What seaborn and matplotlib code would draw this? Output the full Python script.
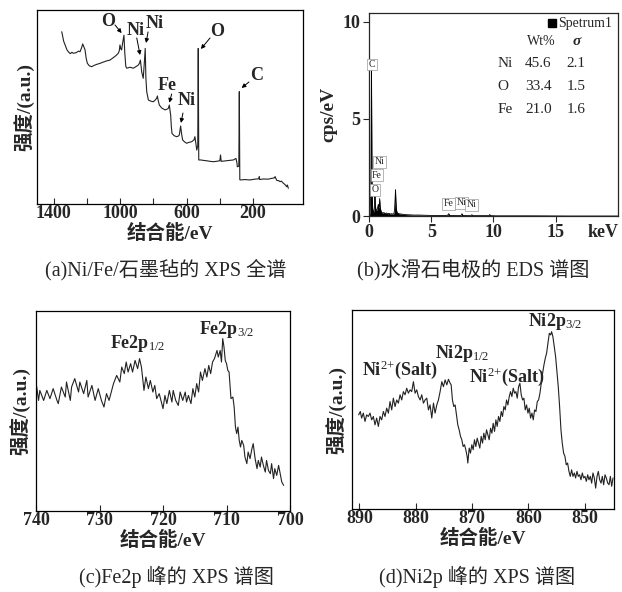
import numpy as np
import pandas as pd
import matplotlib
matplotlib.use('Agg')
import matplotlib.pyplot as plt
import seaborn as sns

sns.set_style('ticks')
plt.rcParams['font.family'] = ['Liberation Serif', 'Noto Sans CJK SC']
plt.rcParams['mathtext.fontset'] = 'custom'
plt.rcParams['mathtext.rm'] = 'Liberation Serif'
plt.rcParams['mathtext.it'] = 'Liberation Serif:italic'
plt.rcParams['mathtext.bf'] = 'Liberation Serif:bold'
plt.rcParams['axes.unicode_minus'] = False

# (a) XPS survey, binding energy (eV) vs intensity (a.u.)
survey_ev = [1351, 1340, 1331, 1320, 1312, 1300, 1290, 1282, 1265, 1250,
             1241, 1232, 1225, 1218, 1211, 1204, 1197, 1185, 1171, 1155,
             1140, 1121, 1100, 1080, 1061, 1040, 1025, 1011, 1005, 1001,
             996, 991, 985, 977, 972, 966, 960, 940, 920, 905,
             891, 884, 878, 870, 861, 855, 849, 845, 840, 830,
             815, 800, 790, 780, 776, 770, 764, 750, 730, 720,
             710, 704, 698, 696, 692, 688, 675, 660, 650, 644,
             636, 630, 624, 612, 600, 585, 570, 556, 550, 544,
             539, 533, 530, 527, 515, 500, 480, 460, 440, 420,
             400, 396, 392, 370, 340, 319, 303, 297, 295, 286,
             283, 280, 275, 250, 219, 190, 165, 163, 160, 140,
             109, 90, 70, 68, 62, 58, 45, 38, 30, 18,
             8, -2, -6, -12]
survey_int = [88.8, 84.0, 82.0, 79.5, 78.5, 77.5, 78.2, 77.7, 78.0, 78.8,
              78.5, 80.5, 82.5, 81.0, 79.4, 75.0, 72.5, 71.2, 70.8, 71.5,
              72.0, 72.5, 73.2, 73.8, 74.2, 75.5, 76.5, 77.7, 79.0, 82.0,
              80.0, 79.4, 83.0, 87.0, 78.0, 71.0, 70.0, 70.5, 70.0, 70.8,
              71.6, 72.5, 74.2, 68.0, 64.8, 72.0, 80.2, 65.0, 57.9, 53.6,
              53.0, 52.7, 53.5, 54.5, 55.7, 53.0, 51.0, 49.5, 48.5, 48.8,
              49.3, 51.0, 47.0, 45.9, 40.0, 36.4, 35.2, 34.7, 35.0, 35.6,
              40.2, 36.0, 33.0, 32.0, 31.3, 31.8, 32.1, 33.0, 34.7, 31.0,
              27.8, 30.0, 80.2, 22.7, 22.7, 22.5, 22.3, 22.0, 21.8, 22.0,
              22.3, 25.3, 22.0, 22.2, 22.5, 22.7, 23.5, 21.0, 19.2, 19.5,
              57.9, 12.5, 12.4, 12.6, 12.4, 12.8, 13.0, 14.1, 12.6, 12.9,
              12.8, 13.2, 13.5, 14.1, 13.0, 12.2, 12.0, 11.5, 11.8, 10.7,
              10.0, 8.9, 9.8, 8.1]

# (b) EDS spectrum
eds_kev = [0, 0.05, 0.1, 0.15, 0.18, 0.2, 0.22, 0.25, 0.3, 0.35,
           0.4, 0.45, 0.48, 0.51, 0.55, 0.6, 0.65, 0.7, 0.75, 0.78,
           0.82, 0.86, 0.9, 0.95, 1.0, 1.1, 1.2, 1.3, 1.4, 1.5,
           1.6, 1.7, 1.8, 1.9, 2.0, 2.05, 2.1, 2.13, 2.16, 2.2,
           2.25, 2.3, 2.4, 2.6, 2.8, 3.0, 3.3, 3.6, 4.0, 4.5,
           5.0, 5.5, 6.0, 6.3, 6.4, 6.5, 6.8, 7.2, 7.4, 7.47,
           7.55, 7.9, 8.2, 8.26, 8.32, 8.8, 9.4, 9.65, 9.7, 9.75,
           10.2, 11, 13, 16, 20]
eds_cps = [0, 0.05, 0.3, 1.5, 5.0, 7.6, 5.0, 1.2, 0.35, 0.2,
           0.25, 0.5, 1.3, 0.6, 0.35, 0.3, 0.3, 0.45, 0.6, 0.4,
           0.5, 0.9, 0.45, 0.3, 0.2, 0.15, 0.18, 0.12, 0.16, 0.11,
           0.14, 0.1, 0.12, 0.1, 0.12, 0.3, 0.9, 1.35, 0.8, 0.35,
           0.2, 0.15, 0.12, 0.1, 0.08, 0.07, 0.06, 0.05, 0.05, 0.04,
           0.03, 0.03, 0.03, 0.03, 0.12, 0.03, 0.03, 0.02, 0.03, 0.12,
           0.03, 0.02, 0.02, 0.07, 0.02, 0.02, 0.02, 0.02, 0.08, 0.02,
           0.01, 0.01, 0.01, 0.0, 0.0]
eds_elements = ['Ni', 'O', 'Fe']
eds_wt = ['45.6', '33.4', '21.0']
eds_sigma = ['2.1', '1.5', '1.6']
eds_peak_names = ['C', 'Ni', 'Fe', 'O', 'Fe', 'Ni', 'Ni']
eds_peak_kev = [0.24, 0.83, 0.64, 0.5, 6.37, 7.44, 8.24]
eds_peak_cps = [7.8, 2.8, 2.1, 1.34, 0.62, 0.69, 0.57]

# (c) Fe2p
fe_ev = [739.9, 739.6, 739.4, 738.8, 738.3, 737.8, 737.3, 736.7, 736.5, 736.0,
         735.4, 735.2, 734.6, 734.4, 733.9, 733.3, 733.1, 732.5, 732.0, 731.8,
         731.2, 730.7, 730.2, 729.7, 729.3, 728.9, 728.5, 727.8, 727.3, 726.8,
         726.5, 726.1, 725.8, 725.5, 725.1, 724.8, 724.4, 724.0, 723.7, 723.4,
         723.2, 723.0, 722.7, 722.3, 722.0, 721.6, 721.3, 721.0, 720.6, 720.2,
         720.0, 719.7, 719.4, 719.0, 718.6, 718.4, 718.0, 717.6, 717.3, 716.9,
         716.5, 716.3, 716.0, 715.6, 715.3, 715.0, 714.7, 714.4, 714.1, 713.8,
         713.4, 713.1, 712.8, 712.5, 712.2, 711.9, 711.5, 711.3, 711.0, 710.8,
         710.6, 710.4, 710.2, 710.0, 709.8, 709.6, 709.3, 709.0, 708.8, 708.6,
         708.4, 708.2, 708.0, 707.8, 707.6, 707.3, 707.1, 706.8, 706.6, 706.3,
         706.0, 705.8, 705.5, 705.2, 705.0, 704.7, 704.5, 704.2, 703.9, 703.7,
         703.4, 703.1, 702.9, 702.6, 702.4, 702.1, 701.8, 701.6, 701.3, 701.0]
fe_int = [62.3, 55.3, 60.3, 55.3, 60.3, 56.2, 61.2, 55.3, 53.7, 62.0,
          57.0, 64.5, 55.3, 62.0, 66.2, 59.5, 64.5, 58.7, 65.3, 57.0,
          62.8, 55.3, 61.2, 55.3, 52.0, 58.7, 55.3, 63.7, 67.8, 64.5,
          72.0, 68.7, 74.5, 69.5, 73.7, 69.5, 75.3, 71.2, 76.2, 72.0,
          66.2, 60.3, 67.0, 61.2, 65.3, 59.5, 62.8, 56.2, 58.7, 53.7,
          51.2, 57.8, 53.7, 60.3, 54.5, 60.3, 55.3, 52.8, 59.5, 55.3,
          59.5, 54.5, 57.8, 53.7, 61.2, 57.0, 63.7, 59.5, 69.5, 65.3,
          71.2, 67.0, 72.8, 68.7, 74.5, 76.2, 80.3, 77.0, 80.3, 74.5,
          86.2, 82.0, 75.3, 73.7, 70.3, 69.5, 56.2, 57.0, 52.0, 42.0,
          38.7, 42.0, 35.3, 32.0, 35.3, 32.8, 27.0, 23.7, 29.5, 26.2,
          31.2, 33.7, 26.2, 21.2, 25.3, 22.0, 27.0, 22.8, 19.5, 25.3,
          20.3, 18.7, 23.7, 16.2, 21.2, 17.8, 22.8, 19.5, 14.5, 12.8]

# (d) Ni2p
ni_ev = [890.12, 889.82, 889.59, 889.29, 888.99, 888.70, 888.40, 888.10, 887.81, 887.51,
         887.21, 886.92, 886.62, 886.33, 886.03, 885.73, 885.44, 885.14, 884.84, 884.55,
         884.25, 883.96, 883.66, 883.36, 883.07, 882.77, 882.47, 882.18, 881.88, 881.59,
         881.29, 880.99, 880.70, 880.40, 880.10, 879.81, 879.51, 879.21, 878.92, 878.62,
         878.33, 878.03, 877.73, 877.44, 877.14, 876.84, 876.55, 876.25, 875.96, 875.66,
         875.36, 875.07, 874.77, 874.47, 874.18, 873.88, 873.70, 873.47, 873.23, 872.99,
         872.76, 872.52, 872.28, 872.04, 871.81, 871.57, 871.33, 871.10, 870.86, 870.74,
         870.50, 870.27, 870.03, 869.79, 869.56, 869.32, 869.08, 868.84, 868.61, 868.37,
         868.13, 867.90, 867.66, 867.42, 867.19, 866.95, 866.71, 866.47, 866.24, 866.00,
         865.76, 865.53, 865.29, 865.05, 864.81, 864.58, 864.34, 864.10, 863.87, 863.63,
         863.39, 863.16, 862.92, 862.68, 862.44, 862.21, 861.97, 861.73, 861.50, 861.26,
         861.02, 860.79, 860.55, 860.31, 860.07, 859.84, 859.60, 859.36, 859.13, 858.89,
         858.65, 858.41, 858.18, 857.94, 857.70, 857.47, 857.23, 856.99, 856.76, 856.52,
         856.28, 856.04, 855.87, 855.64, 855.40, 855.16, 854.93, 854.69, 854.45, 854.21,
         853.98, 853.74, 853.50, 853.27, 853.03, 852.79, 852.56, 852.32, 852.08, 851.84,
         851.61, 851.37, 851.13, 850.90, 850.66, 850.42, 850.19, 849.95, 849.71, 849.47,
         849.24, 849.00, 848.76, 848.53, 848.29, 848.05, 847.81, 847.58, 847.34, 847.10,
         846.87, 846.63, 846.39, 846.16, 845.91, 845.68, 845.44, 845.21, 844.97]
ni_int = [47.3, 49.0, 45.7, 48.2, 44.0, 47.3, 46.5, 48.2, 44.8, 46.5,
          42.3, 45.7, 41.5, 46.5, 44.8, 49.0, 46.5, 50.7, 48.2, 54.0,
          49.8, 55.7, 51.5, 54.8, 53.2, 57.4, 54.8, 59.0, 57.4, 60.7,
          58.2, 59.9, 59.0, 64.0, 58.2, 59.9, 56.5, 54.8, 57.4, 53.2,
          54.8, 55.7, 49.8, 52.3, 45.7, 53.2, 48.2, 52.3, 54.8, 59.0,
          64.0, 61.5, 64.9, 62.4, 65.2, 63.2, 62.4, 54.8, 51.5, 52.3,
          47.3, 42.3, 39.8, 36.5, 34.8, 31.4, 32.3, 29.8, 26.4, 23.1,
          30.6, 28.1, 32.3, 29.8, 34.8, 31.4, 35.6, 33.1, 30.6, 36.5,
          33.1, 38.1, 34.8, 39.8, 37.3, 34.8, 40.6, 38.1, 43.1, 39.0,
          44.8, 41.5, 46.5, 44.0, 49.0, 46.5, 51.5, 49.8, 54.8, 52.3,
          56.5, 59.0, 56.5, 60.7, 58.2, 59.0, 55.7, 61.5, 63.2, 57.4,
          54.8, 55.7, 49.8, 52.3, 48.2, 50.7, 45.7, 48.2, 44.8, 49.8,
          49.0, 54.0, 54.8, 58.2, 63.2, 68.2, 72.4, 75.8, 78.3, 83.3,
          88.3, 87.5, 89.1, 86.6, 81.6, 76.6, 69.1, 61.5, 51.5, 39.8,
          33.1, 28.1, 26.4, 22.2, 23.1, 18.9, 16.4, 19.7, 16.4, 18.1,
          15.6, 18.9, 16.4, 17.2, 14.7, 18.1, 15.6, 16.4, 13.9, 17.2,
          14.7, 16.4, 13.0, 18.1, 15.6, 10.5, 16.4, 18.9, 14.7, 13.0,
          16.4, 12.2, 17.2, 15.6, 13.0, 12.2, 16.4, 11.4, 15.6]

TICK = dict(fontsize=13, fontweight='bold')
LAB = dict(fontsize=14, fontweight='bold')
LINE = '#222222'

fig = plt.figure(figsize=(6.22, 5.92), dpi=100)
ax_a = fig.add_axes([0.0595, 0.6554, 0.4276, 0.3277])
ax_b = fig.add_axes([0.5932, 0.6351, 0.4004, 0.3429])
ax_c = fig.add_axes([0.0579, 0.1368, 0.4084, 0.3378])
ax_d = fig.add_axes([0.5659, 0.1402, 0.4212, 0.3361])


def xps_axes(ax, xlim, ticks, labels, minor=None):
    ax.set_xlim(*xlim)
    ax.set_ylim(0, 100)
    ax.set_yticks([])
    ax.set_xticks(ticks)
    ax.set_xticklabels(labels, **TICK)
    if minor is not None:
        ax.set_xticks(minor, minor=True)
    ax.tick_params(axis='x', which='both', direction='in', length=4, width=0.8, pad=1)
    for s in ax.spines.values():
        s.set_linewidth(0.9)
        s.set_color('black')
    ax.set_xlabel('结合能/eV', labelpad=1, **LAB)
    ax.set_ylabel('强度/(a.u.)', labelpad=4, **LAB)


# ---- (a) survey
sns.lineplot(x=survey_ev, y=survey_int, ax=ax_a, sort=False, estimator=None,
             color=LINE, lw=0.8)
xps_axes(ax_a, (1500, -100), [1400, 1000, 600, 200], ['1400', '1000', '600', '200'],
         minor=[1200, 800, 400])
ax_a.set_ylabel('强度/(a.u.)', labelpad=2, **LAB)
arrows = [('O', (1073, 94.3), (1031, 92.3), (991, 88.1)),
          ('Ni', (904, 89.2), (900, 85.6), (880, 76.8)),
          ('Ni', (790, 93.3), (832, 88.7), (844, 83.0)),
          ('O', (417, 88.7), (459, 85.6), (514, 79.9)),
          ('Fe', (718, 61.3), (690, 56.7), (704, 52.2)),
          ('Ni', (598, 53.6), (622, 46.9), (634, 41.8)),
          ('C', (177, 66.0), (225, 62.9), (269, 59.8))]
for name, txt, tail, head in arrows:
    ax_a.text(*txt, name, ha='center', va='center', fontsize=13, fontweight='bold')
    ax_a.annotate('', xy=head, xytext=tail,
                  arrowprops=dict(arrowstyle='-|>', lw=0.7, color='black',
                                  mutation_scale=6, shrinkA=0, shrinkB=0))

# ---- (b) EDS
ax_b.fill_between(eds_kev, 0, eds_cps, color='black', lw=0)
sns.lineplot(x=eds_kev, y=eds_cps, ax=ax_b, sort=False, estimator=None, color='black', lw=0.6)
ax_b.set_xlim(0, 20)
ax_b.set_ylim(0, 10.45)
ax_b.set_xticks([0, 5, 10, 15, 18.8])
ax_b.set_xticklabels(['0', '5', '10', '15', 'keV'], **TICK)
ax_b.xaxis.get_major_ticks()[-1].tick1line.set_visible(False)
ax_b.set_yticks([0, 5, 10])
ax_b.set_yticklabels(['0', '5', '10'], **TICK)
ax_b.tick_params(direction='out', length=4, width=0.8, pad=2)
for s in ax_b.spines.values():
    s.set_linewidth(0.9)
ax_b.set_ylabel('cps/eV', labelpad=4, **LAB)
for name, kx, ky in zip(eds_peak_names, eds_peak_kev, eds_peak_cps):
    ax_b.text(kx, ky, name, ha='center', va='center', fontsize=7,
              bbox=dict(boxstyle='square,pad=0.15', fc='white', ec='#999999', lw=0.5))
ax_b.plot([14.7], [9.93], marker='s', ms=6, color='black', ls='none')
ax_b.text(15.2, 9.93, 'Spetrum1', ha='left', va='center', fontsize=10)
ax_b.text(13.8, 8.98, 'Wt%', ha='center', va='center', fontsize=10)
ax_b.text(16.7, 8.98, 'σ', ha='center', va='center', fontsize=11, style='italic', fontweight='bold')
for i, (el, wt, sg) in enumerate(zip(eds_elements, eds_wt, eds_sigma)):
    yy = [7.87, 6.67, 5.50][i]
    ax_b.text(10.3, yy, el, ha='left', va='center', fontsize=11)
    ax_b.text(13.6, yy, wt, ha='center', va='center', fontsize=11)
    ax_b.text(16.6, yy, sg, ha='center', va='center', fontsize=11)

# ---- (c) Fe2p
sns.lineplot(x=fe_ev, y=fe_int, ax=ax_c, sort=False, estimator=None, color=LINE, lw=0.8)
xps_axes(ax_c, (740, 700), [740, 730, 720, 710, 700], ['740', '730', '720', '710', '700'])
ax_c.text(728.3, 84, r'Fe2p$_{1/2}$', ha='left', va='center', fontsize=13, fontweight='bold')
ax_c.text(714.3, 91, r'Fe2p$_{3/2}$', ha='left', va='center', fontsize=13, fontweight='bold')

# ---- (d) Ni2p
sns.lineplot(x=ni_ev, y=ni_int, ax=ax_d, sort=False, estimator=None, color=LINE, lw=0.8)
xps_axes(ax_d, (891.3, 844.8), [890, 880, 870, 860, 850], ['890', '880', '870', '860', '850'])
ax_d.text(889.6, 69.9, r'Ni$^{2{+}}$(Salt)', ha='left', va='center', fontsize=13, fontweight='bold')
ax_d.text(876.5, 78.3, r'Ni2p$_{1/2}$', ha='left', va='center', fontsize=13, fontweight='bold')
ax_d.text(870.6, 66.6, r'Ni$^{2{+}}$(Salt)', ha='left', va='center', fontsize=13, fontweight='bold')
ax_d.text(860.0, 94.1, r'Ni2p$_{3/2}$', ha='left', va='center', fontsize=13, fontweight='bold')

# ---- captions
cap = dict(ha='center', va='center', fontsize=14.5)
fig.text(166 / 622, 1 - 270 / 592, '(a)Ni/Fe/石墨毡的 XPS 全谱', **cap)
fig.text(473 / 622, 1 - 270 / 592, '(b)水滑石电极的 EDS 谱图', **cap)
fig.text(176 / 622, 1 - 577 / 592, '(c)Fe2p 峰的 XPS 谱图', **cap)
fig.text(477 / 622, 1 - 577 / 592, '(d)Ni2p 峰的 XPS 谱图', **cap)

fig.savefig('out.png', dpi=100)
